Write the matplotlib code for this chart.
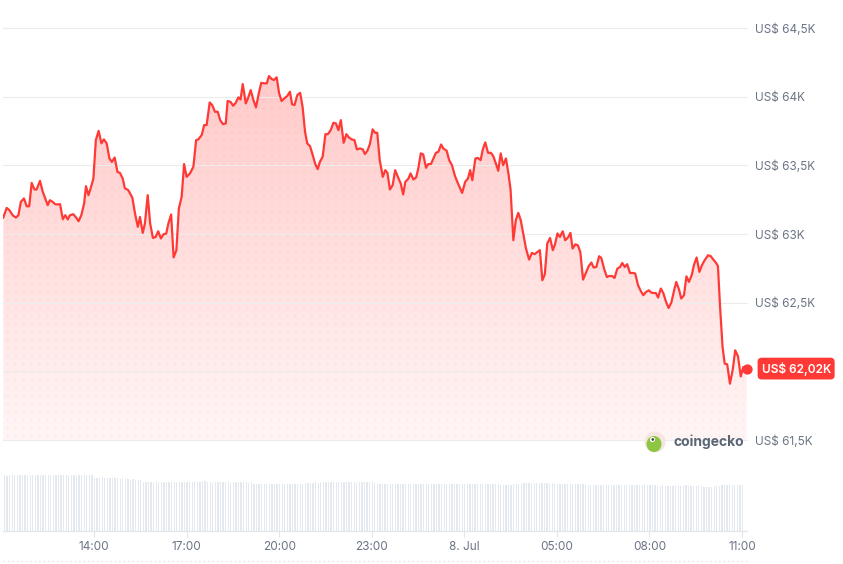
import numpy as np
import matplotlib
matplotlib.use('Agg')
import matplotlib.pyplot as plt
from matplotlib.transforms import blended_transform_factory, offset_copy
from matplotlib.patches import Circle, Ellipse

plt.rcParams['font.family'] = ['Inter', 'DejaVu Sans']

# ---------------- data ----------------
# time in hours since 00:00 on 7 Jul (values > 24 are on 8 Jul)
times = [11.06, 11.17, 11.26, 11.37, 11.47, 11.55, 11.63, 11.73, 11.82, 11.90,
         11.98, 12.07, 12.14, 12.25, 12.34, 12.42, 12.50, 12.57, 12.66, 12.74,
         12.81, 12.90, 12.99, 13.07, 13.15, 13.22, 13.33, 13.42, 13.50, 13.59,
         13.68, 13.74, 13.82, 13.89, 13.98, 14.06, 14.15, 14.24, 14.32, 14.41,
         14.50, 14.58, 14.67, 14.76, 14.84, 14.93, 15.00, 15.11, 15.24, 15.33,
         15.42, 15.49, 15.58, 15.65, 15.74, 15.82, 15.91, 16.00, 16.08, 16.17,
         16.25, 16.34, 16.41, 16.50, 16.58, 16.67, 16.75, 16.84, 16.92, 17.00,
         17.11, 17.22, 17.31, 17.38, 17.49, 17.57, 17.65, 17.75, 17.83, 17.92,
         18.01, 18.09, 18.18, 18.27, 18.33, 18.42, 18.51, 18.59, 18.68, 18.75,
         18.82, 18.92, 19.00, 19.08, 19.15, 19.25, 19.34, 19.42, 19.51, 19.60,
         19.67, 19.76, 19.83, 19.92, 20.00, 20.08, 20.17, 20.26, 20.35, 20.42,
         20.50, 20.59, 20.68, 20.76, 20.84, 20.91, 21.00, 21.09, 21.17, 21.25,
         21.32, 21.41, 21.50, 21.58, 21.67, 21.76, 21.84, 21.92, 22.00, 22.09,
         22.18, 22.26, 22.35, 22.44, 22.52, 22.62, 22.71, 22.78, 22.86, 22.94,
         23.03, 23.11, 23.18, 23.26, 23.36, 23.44, 23.51, 23.59, 23.68, 23.76,
         23.87, 23.94, 24.02, 24.09, 24.19, 24.26, 24.35, 24.44, 24.51, 24.59,
         24.67, 24.76, 24.83, 24.92, 25.00, 25.08, 25.16, 25.25, 25.32, 25.43,
         25.51, 25.60, 25.70, 25.81, 25.93, 26.03, 26.12, 26.19, 26.26, 26.36,
         26.44, 26.53, 26.60, 26.68, 26.77, 26.86, 26.94, 27.03, 27.10, 27.18,
         27.26, 27.35, 27.43, 27.50, 27.59, 27.67, 27.75, 27.83, 27.91, 28.00,
         28.10, 28.19, 28.28, 28.37, 28.45, 28.53, 28.61, 28.69, 28.78, 28.87,
         28.94, 29.02, 29.10, 29.19, 29.27, 29.36, 29.44, 29.51, 29.60, 29.68,
         29.76, 29.85, 29.94, 30.03, 30.12, 30.19, 30.28, 30.37, 30.44, 30.53,
         30.62, 30.70, 30.79, 30.87, 30.96, 31.05, 31.12, 31.20, 31.28, 31.37,
         31.48, 31.54, 31.63, 31.72, 31.80, 31.89, 31.98, 32.06, 32.15, 32.21,
         32.28, 32.37, 32.45, 32.54, 32.62, 32.71, 32.80, 32.87, 32.96, 33.03,
         33.12, 33.20, 33.28, 33.37, 33.44, 33.53, 33.62, 33.70, 33.79, 33.90,
         33.99, 34.07, 34.16, 34.22, 34.29, 34.37, 34.44, 34.52, 34.61, 34.70,
         34.78, 34.87, 34.96, 35.04, 35.15]

prices = [63120, 63190, 63173, 63135, 63120, 63137, 63234, 63259, 63202, 63202,
          63372, 63324, 63324, 63387, 63307, 63259, 63210, 63246, 63234, 63217,
          63215, 63217, 63108, 63137, 63106, 63137, 63144, 63120, 63093, 63137,
          63222, 63348, 63283, 63331, 63404, 63684, 63751, 63660, 63689, 63660,
          63550, 63525, 63557, 63452, 63445, 63404, 63334, 63319, 63266, 63149,
          63052, 63124, 63008, 63076, 63283, 63076, 62971, 62979, 63020, 62967,
          62998, 63003, 63076, 63142, 62829, 62882, 63186, 63270, 63509, 63416,
          63441, 63489, 63684, 63689, 63720, 63793, 63793, 63958, 63939, 63890,
          63890, 63829, 63800, 63805, 63968, 63963, 63934, 63955, 63995, 63980,
          64092, 63951, 63995, 64048, 63987, 63922, 64024, 64101, 64097, 64097,
          64150, 64128, 64121, 64141, 64024, 63968, 63988, 64004, 64036, 63944,
          63939, 64012, 64028, 63926, 63744, 63660, 63640, 63574, 63509, 63472,
          63525, 63562, 63727, 63727, 63756, 63810, 63805, 63756, 63829, 63664,
          63727, 63703, 63689, 63684, 63616, 63623, 63616, 63582, 63606, 63654,
          63762, 63737, 63737, 63538, 63416, 63465, 63445, 63324, 63356, 63465,
          63404, 63368, 63288, 63380, 63404, 63441, 63397, 63412, 63477, 63587,
          63579, 63482, 63509, 63509, 63550, 63591, 63598, 63652, 63623, 63606,
          63538, 63501, 63421, 63361, 63299, 63380, 63404, 63465, 63392, 63550,
          63554, 63538, 63616, 63667, 63591, 63591, 63567, 63509, 63460, 63587,
          63501, 63550, 63441, 63324, 62955, 63100, 63154, 63100, 63004, 62894,
          62814, 62862, 62853, 62869, 62882, 62663, 62707, 62931, 62971, 62882,
          62925, 63004, 62979, 63020, 62955, 62974, 63008, 62894, 62925, 62918,
          62869, 62668, 62716, 62765, 62792, 62756, 62760, 62838, 62826, 62748,
          62687, 62694, 62694, 62680, 62748, 62760, 62789, 62760, 62780, 62716,
          62716, 62712, 62627, 62585, 62554, 62578, 62590, 62573, 62570, 62570,
          62537, 62603, 62570, 62505, 62461, 62500, 62590, 62651, 62595, 62530,
          62554, 62692, 62651, 62700, 62772, 62829, 62724, 62772, 62809, 62845,
          62838, 62814, 62789, 62767, 62468, 62177, 62056, 62051, 61910, 62012,
          62153, 62109, 61963, 62031, 62020]

# 24h volume, billions USD, one bar every 5 minutes starting at vol_start
vol_start = 11.1
vol_step = 5 / 60
volumes = [28.0, 27.7, 27.8, 27.8, 27.9, 28.1, 28.1, 27.9, 28.1, 28.1, 28.1, 27.8, 28.0, 27.9, 28.1,
           28.0, 27.8, 28.1, 27.9, 28.1, 28.1, 28.1, 27.9, 28.1, 28.0, 27.8, 27.8, 28.0, 27.5, 28.1,
           28.1, 28.0, 27.9, 28.1, 28.0,
           26.6, 26.4, 26.6, 26.8, 26.6, 26.5, 26.5, 26.4, 26.3, 26.4, 26.2,
           26.3, 25.9, 25.8, 25.7, 25.9, 25.6, 25.5, 25.4,
           24.6, 24.4, 24.4, 24.5, 24.5, 24.5, 24.5, 24.3, 24.6, 24.6, 24.4, 24.4, 24.4, 24.6, 24.3,
           24.5, 24.6, 24.7, 24.6, 24.6, 24.8, 24.6, 24.6, 24.8, 24.8, 24.6, 24.6, 24.5, 24.5, 24.3,
           24.4, 24.4, 24.4, 24.4, 24.2, 24.5, 24.3, 24.4, 24.4, 24.3, 24.4, 24.2, 24.3,
           23.6, 23.6, 23.6, 23.6, 23.6, 23.6, 23.6, 23.6, 23.6, 23.5, 23.6, 23.6, 23.6, 23.6, 23.6,
           23.6, 23.6, 23.5, 23.6, 23.7, 23.8,
           23.9, 24.0, 24.2, 24.4, 24.1,
           24.3, 24.3, 24.3, 24.3, 24.3, 24.3, 24.4, 24.4, 24.5, 24.5, 24.5, 24.5, 24.5, 24.5, 24.6,
           24.5, 24.6, 24.6, 24.5, 24.6, 24.4, 24.2,
           23.7, 23.6, 23.6, 23.6, 23.3, 23.5, 23.6, 23.6, 23.6, 23.5, 23.3, 23.6, 23.6, 23.6, 23.6,
           23.6, 23.6, 23.6, 23.6, 23.6, 23.3, 23.4, 23.6, 23.4, 23.6, 23.6, 23.6, 23.6, 23.6, 23.6,
           23.4, 23.3, 23.3, 23.3, 23.3, 23.3, 23.3, 23.3, 23.3, 23.3, 23.4, 23.4, 23.6, 23.6, 23.6,
           23.4, 23.3, 23.3,
           23.2, 23.1, 23.2, 23.1, 23.2,
           23.6, 23.7, 23.6, 23.5, 23.8, 23.8, 23.8, 23.8, 24.0, 24.0, 23.8, 23.8, 23.8, 23.8, 23.7,
           23.8,
           23.5, 23.4, 23.4, 23.3, 23.4, 23.3, 23.4, 23.4, 23.3, 23.4, 23.4, 23.4,
           23.2, 23.2, 23.1, 23.2, 23.2, 23.1, 23.2, 23.2, 23.2, 23.1, 23.2, 23.2, 23.1, 23.2, 23.1,
           23.1, 23.2, 23.2, 23.1, 23.1, 23.0, 23.1, 23.1, 23.0, 23.0, 23.0, 23.0,
           22.8, 22.7, 22.7, 22.8, 22.7, 22.7, 22.7, 22.6, 22.7, 22.7, 22.7, 22.6, 22.8, 22.7, 22.7,
           22.6,
           22.4, 22.8, 22.3, 22.2, 22.2, 22.2, 22.2, 22.3, 22.4, 22.6, 23.0, 23.1,
           23.1, 23.0, 23.1, 23.1, 23.0, 23.1, 23.1]

x_tick_pos = [14, 17, 20, 23, 26, 29, 32, 35]
x_tick_labels = ['14:00', '17:00', '20:00', '23:00', '8. Jul', '05:00', '08:00', '11:00']
y_ticks = [61500, 62000, 62500, 63000, 63500, 64000, 64500]
y_tick_labels = ['US$ 61,5K', '', 'US$ 62,5K', 'US$ 63K', 'US$ 63,5K', 'US$ 64K', 'US$ 64,5K']
last_label = 'US$ 62,02K'
brand = 'coingecko'

# ---------------- style ----------------
RED = '#ff3a36'
GRID = '#ececec'
TXT = '#6b7485'
VOLC = '#e4e9f0'

W, H = 843, 564
PXH = 30.857            # pixels per hour
XMIN = 14 - 91 / PXH    # axes left edge at x=3 px
XMAX = 14 + 653 / PXH   # axes right edge at x=747 px
YMIN, YMAX = 61500, 64500

fig = plt.figure(figsize=(W / 100, H / 100), dpi=100)


def frac(x0, y0, x1, y1):
    return [x0 / W, 1 - y1 / H, (x1 - x0) / W, (y1 - y0) / H]


ax = fig.add_axes(frac(3, 28, 747, 440))
axv = fig.add_axes(frac(3, 455, 747, 531))

# ---- price panel ----
poly = ax.fill_between(times, prices, YMIN, facecolor='none', edgecolor='none')
clip = poly.get_paths()[0]

rgb = matplotlib.colors.to_rgb(RED)
n = 256
grad = np.zeros((n, 1, 4))
grad[..., 0], grad[..., 1], grad[..., 2] = rgb
grad[:, 0, 3] = np.linspace(0.30, 0.05, n)
im = ax.imshow(grad, extent=[XMIN, XMAX, YMIN, YMAX], origin='upper',
               aspect='auto', zorder=1, interpolation='bilinear')
im.set_clip_path(clip, transform=ax.transData)

# dotted texture
dx = 8 / PXH
dy = 8 * (YMAX - YMIN) / 412
gx, gy = np.meshgrid(np.arange(XMIN + dx / 2, XMAX, dx), np.arange(YMIN + dy / 2, YMAX, dy))
sc = ax.scatter(gx.ravel(), gy.ravel(), s=2.0, color=RED, alpha=0.07, lw=0, zorder=1.5)
sc.set_clip_path(clip, transform=ax.transData)

ax.plot(times, prices, color=RED, lw=1.6, zorder=3, solid_joinstyle='round')
ax.scatter([times[-1]], [prices[-1]], s=55, color=RED, zorder=4, clip_on=False, lw=0)

ax.set_xlim(XMIN, XMAX)
ax.set_ylim(YMIN, YMAX)
for s in ax.spines.values():
    s.set_visible(False)
ax.set_xticks([])
ax.set_yticks(y_ticks)
ax.set_yticklabels(y_tick_labels)
ax.yaxis.tick_right()
ax.tick_params(axis='y', length=0, pad=6, labelsize=8.5, labelcolor=TXT)
ax.grid(axis='y', color=GRID, lw=0.8, zorder=0)
for gl in ax.get_ygridlines():
    gl.set_clip_on(False)

tr = blended_transform_factory(ax.transAxes, ax.transData)
tr = offset_copy(tr, fig=fig, x=14.5, y=0, units='dots')
ax.text(1.0, prices[-1], last_label, transform=tr, ha='left', va='center',
        color='white', fontsize=8.5, fontweight='semibold', zorder=6,
        bbox=dict(boxstyle='round,pad=0.33,rounding_size=0.35', fc=RED, ec='none'))

# ---- volume panel ----
vol_times = [vol_start + i * vol_step for i in range(len(volumes))]
axv.bar(vol_times, volumes, width=1.2 / PXH, color=VOLC, lw=0, align='center')
axv.set_xlim(XMIN, XMAX)
axv.set_ylim(0, 38)
for k, s in axv.spines.items():
    s.set_visible(k == 'bottom')
axv.spines['bottom'].set_color('#e3e6ea')
axv.spines['bottom'].set_linewidth(0.9)
axv.set_yticks([])
axv.set_xticks(x_tick_pos)
axv.set_xticklabels(x_tick_labels)
axv.tick_params(axis='x', length=4, width=0.8, color='#e3e6ea', pad=3,
                labelsize=8.5, labelcolor=TXT)

# ---- overlay (brand + navigator edge) ----
ov = fig.add_axes([0, 0, 1, 1], zorder=10)
ov.set_xlim(0, W)
ov.set_ylim(H, 0)
ov.axis('off')
ov.patch.set_alpha(0)
ov.add_patch(Circle((655, 442), 10.5, fc='#f6e6e2', ec='none'))
ov.add_patch(Ellipse((654, 444), 15, 16, fc='#8dc641', ec='none'))
ov.add_patch(Circle((652.5, 439.5), 2.6, fc='white', ec='none'))
ov.add_patch(Circle((652.8, 439.5), 1.3, fc='#3b3b3b', ec='none'))
ov.text(673, 442, brand, ha='left', va='center', fontsize=10, fontweight='bold', color='#5c6675')
ov.plot([3, 747], [561, 561], color='#dfe3e8', lw=0.8, ls=(0, (1.5, 2.5)))

fig.savefig('out.png', dpi=100)
